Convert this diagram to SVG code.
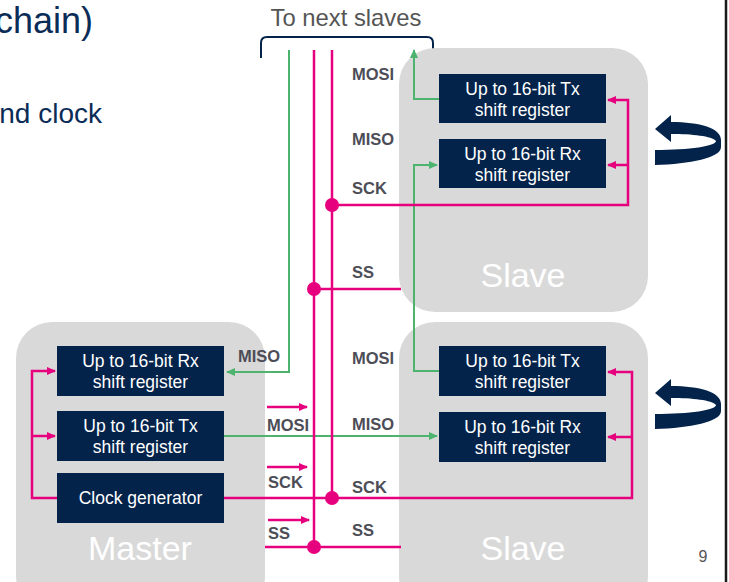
<svg xmlns="http://www.w3.org/2000/svg" width="729" height="582" viewBox="0 0 729 582">
<style>
.unit{fill:#d9d9d9}
.box{fill:#03234b}
.bt{font-family:"Liberation Sans",Arial,sans-serif;font-size:17.5px;fill:#fff;text-anchor:middle}
.big{font-family:"Liberation Sans",Arial,sans-serif;font-size:34px;fill:#fff;text-anchor:middle}
.lbl{font-family:"Liberation Sans",Arial,sans-serif;font-size:16.5px;font-weight:bold;fill:#4d4d57}
.pk{fill:none;stroke:#e6007e;stroke-width:2.5}
.gr{fill:none;stroke:#4db46f;stroke-width:2}
.dot{fill:#e6007e}
.title{font-family:"Liberation Sans",Arial,sans-serif;fill:#0b2c57}
</style>
<defs>
<marker id="ap" markerWidth="10" markerHeight="10" refX="8" refY="5" orient="auto" markerUnits="userSpaceOnUse"><path d="M0,1 L9,5 L0,9 Z" fill="#e6007e"/></marker>
<marker id="ag" markerWidth="10" markerHeight="10" refX="8" refY="5" orient="auto" markerUnits="userSpaceOnUse"><path d="M0,1 L9,5 L0,9 Z" fill="#4db46f"/></marker>
</defs>
<rect width="729" height="582" fill="#fff"/>
<text class="title" x="93" y="33" font-size="36" text-anchor="end">chain)</text>
<text class="title" x="102" y="123" font-size="28" text-anchor="end">nd clock</text>
<line x1="726" y1="0" x2="726" y2="582" stroke="#1a1a1a" stroke-width="2.5"/>
<text x="703" y="562" font-family="Liberation Sans,Arial,sans-serif" font-size="16" fill="#555" text-anchor="middle">9</text>

<g id="top-label">
<text x="346" y="26" font-family="Liberation Sans,Arial,sans-serif" font-size="23.8" fill="#555" text-anchor="middle">To next slaves</text>
<path d="M261,58 V43 Q261,37 267,37 H427 Q433,37 433,43 V58" fill="none" stroke="#03234b" stroke-width="2"/>
</g>

<g id="slave-top">
<rect class="unit" x="399" y="48" width="249" height="264" rx="36"/>
<text class="big" x="523" y="287">Slave</text>
</g>
<g id="slave-bottom">
<rect class="unit" x="399" y="322" width="249" height="290" rx="36"/>
<text class="big" x="523" y="560">Slave</text>
</g>
<g id="master">
<rect class="unit" x="16" y="322" width="249" height="290" rx="36"/>
<text class="big" x="140" y="560">Master</text>
</g>

<g id="connectors">
<path class="gr" d="M289,50 V372 H227" marker-end="url(#ag)"/>
<path class="gr" d="M439,99 H414 V50" marker-end="url(#ag)"/>
<path class="gr" d="M439,371 H414 V165 H437" marker-end="url(#ag)"/>
<path class="gr" d="M224,436 H437" marker-end="url(#ag)"/>
<path class="pk" d="M314,50 V547"/>
<path class="pk" d="M332,50 V498"/>
<path class="pk" d="M332,205 H628 V100 H608" marker-end="url(#ap)"/>
<path class="pk" d="M628,165 H608" marker-end="url(#ap)"/>
<path class="pk" d="M314,289 H401"/>
<path class="pk" d="M224,498 H632 V372 H608" marker-end="url(#ap)"/>
<path class="pk" d="M632,437 H608" marker-end="url(#ap)"/>
<path class="pk" d="M265,547 H401"/>
<path class="pk" d="M57,498 H32 V371 H55" marker-end="url(#ap)"/>
<path class="pk" d="M32,436 H55" marker-end="url(#ap)"/>
<path class="pk" d="M267,407 H307" marker-end="url(#ap)"/>
<path class="pk" d="M267,467 H307" marker-end="url(#ap)"/>
<path class="pk" d="M268,520 H309" marker-end="url(#ap)"/>
<circle class="dot" cx="332" cy="205" r="7"/>
<circle class="dot" cx="314" cy="289" r="7"/>
<circle class="dot" cx="332" cy="498" r="7"/>
<circle class="dot" cx="314" cy="547" r="7"/>
</g>

<g id="top-tx"><rect class="box" x="439" y="74" width="167" height="49"/><text class="bt" x="522.5" y="95">Up to 16-bit Tx</text><text class="bt" x="522.5" y="116">shift register</text></g>
<g id="top-rx"><rect class="box" x="439" y="139" width="167" height="49"/><text class="bt" x="522.5" y="160">Up to 16-bit Rx</text><text class="bt" x="522.5" y="181">shift register</text></g>
<g id="bot-tx"><rect class="box" x="439" y="346" width="167" height="50"/><text class="bt" x="522.5" y="367">Up to 16-bit Tx</text><text class="bt" x="522.5" y="388">shift register</text></g>
<g id="bot-rx"><rect class="box" x="439" y="412" width="167" height="50"/><text class="bt" x="522.5" y="433">Up to 16-bit Rx</text><text class="bt" x="522.5" y="454">shift register</text></g>
<g id="m-rx"><rect class="box" x="57" y="346" width="167" height="50"/><text class="bt" x="140.5" y="367">Up to 16-bit Rx</text><text class="bt" x="140.5" y="388">shift register</text></g>
<g id="m-tx"><rect class="box" x="57" y="411" width="167" height="50"/><text class="bt" x="140.5" y="432">Up to 16-bit Tx</text><text class="bt" x="140.5" y="453">shift register</text></g>
<g id="m-clk"><rect class="box" x="57" y="473" width="167" height="50"/><text class="bt" x="140.5" y="504">Clock generator</text></g>

<g id="labels">
<text class="lbl" x="352" y="80">MOSI</text>
<text class="lbl" x="352" y="145">MISO</text>
<text class="lbl" x="352" y="194">SCK</text>
<text class="lbl" x="352" y="278">SS</text>
<text class="lbl" x="352" y="364">MOSI</text>
<text class="lbl" x="352" y="430">MISO</text>
<text class="lbl" x="352" y="493">SCK</text>
<text class="lbl" x="352" y="536">SS</text>
<text class="lbl" x="238" y="362">MISO</text>
<text class="lbl" x="267" y="431">MOSI</text>
<text class="lbl" x="268" y="488">SCK</text>
<text class="lbl" x="268" y="539">SS</text>
</g>

<g id="rotate-top">
<path d="M655,129 L671,115 L671,122 C700,122 721,128 721,140 L721,147 C721,158 690,164 655,165 L655,150 C690,150 716,146 716,141 C712,136 692,134 671,134 L671,142 Z" fill="#03234b"/>
</g>
<g id="rotate-bottom">
<path d="M655,393 L671,379 L671,386 C700,386 721,392 721,404 L721,411 C721,422 690,428 655,429 L655,414 C690,414 716,410 716,405 C712,400 692,398 671,398 L671,406 Z" fill="#03234b"/>
</g>
</svg>
